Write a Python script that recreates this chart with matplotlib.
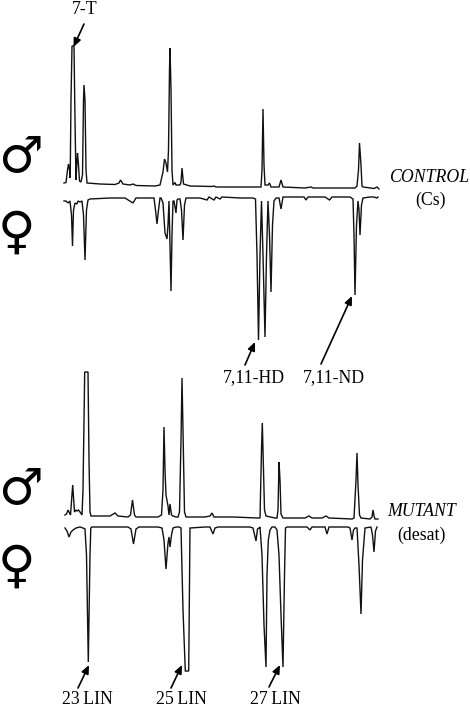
import matplotlib
matplotlib.use("Agg")
import matplotlib.pyplot as plt

# retention position / detector signal
control_male_rt = [64,66,67.5,68.5,69.5,70.2,
    71,72,74,75,76,
    77,77.5,78.5,79.5,81,82.5,
    83.5,84,85,86,87,
    100,115,119,120.5,123,130,133,136,155,160,
    163,164.5,166,167.5,168.5,169.5,170,171,172,173,
    175,176,180,181,182,183.5,190,212,214,216,235,
    261,262,263,264,265,268,269.5,271,279,281,283,
    305,311,313,355,357,358.5,359.5,361,362,363,374,377,379]
control_male_sig = [7,7.5,20,26,20,12,
    90,144,144,70,10,
    30,37,25,9,8,15,
    90,105,90,20,7,
    6,5.5,7,10,6,5,6,4.5,4,5,
    18,31,27,18,40,120,142,100,20,5,
    7.5,5,5,8,22,6,4,3.5,4,3,3,
    3,20,81,25,5,5,7,3,3,10,3,
    2,3,2,2,4,20,47,25,4,3,1.5,3,1]

control_female_rt = [64,66,68,70,71.5,72.5,73.5,75,77,78,80,82,
    83.5,85,86.5,88,90,110,125,133,136,150,154,
    155.5,157,158.5,160,161,163,
    165,167,168,169,170,171,172,173,
    174,175,176,177,178,180,181.5,183,184.5,186,
    200,207,209,214,216,220,222,240,253,
    255.5,257,258.5,260,261.5,263,265,266.5,268,269.5,271,272.5,274,
    276,279,281,283,290,300,304,306,308,325,329.5,332,345,350,353,
    354,355,356.5,358,359,360,361.5,363,370,374,377,378]
control_female_sig = [6,6,8,6,20,51,15,8,9,6,7,6,
    20,65,15,5,4,3,3,8,3,3,3,
    15,29,15,3,3,8,
    38,44,30,6,50,96,40,6,
    6,12,18,5,4,4,15,45,10,3,
    3,5,2,5,2,4,2,3,3,
    4,60,145,60,6,60,142,60,6,40,97,30,6,
    3,3,14,2,2,2,2,5,2,2,5,2,2,2,4,
    40,100,30,6,15,40,10,3,2,2,3,2]

mutant_male_rt = [65,66.5,68,69,70.5,72.7,74.5,76,77,78.5,80,82,
    83,84.7,88,89,90,91,110,115,118,
    128,130.5,132.5,134.5,136,158,
    161.5,163,164,165,166,168,169,170,171.5,173,
    176,178,179.5,181,182,183,184.5,186,205,210,212,214,228,231,233,
    258,260,261.5,262.3,263.5,264.5,266,275,277,278,279,280,281,283,
    305,309,312,322,326,329,352,354,356,357,358,359.5,361,
    370,372,373,374,375,378]
mutant_male_sig = [5,6,10,8,5,35,8,10,9,10,8,5,
    30,148,148,60,8,4,4,7,4,
    3,5,20,5,3,3,
    5,30,93,50,25,14,5,16,5,4,
    3,3,8,80,142,90,8,3,3,4,7,3,3,3,3,
    2,2,70,97,50,10,4,2,2,10,58,40,6,2,
    2,4,2,2,4,2,1,2,40,67,35,5,2,
    1,3,10,4,1,1]

mutant_female_rt = [65,67,69,71,73,76,80,83,85,
    86.5,88.3,90,90.8,92,110,128,131,133.5,136,139,158,
    162,164,166,168,169,170,171.5,173,176,179,
    181,183,185.3,188.7,190,205,210,213,215,218,250,
    253,256,257.5,259,260,262,264,266,267,268.3,270,272,
    275,277,279,281,283,284.5,285.5,287,300,307,310,312,320,325,327,329,
    340,348,350,352,353.5,355,357,359,361,362.5,365,
    371,372.5,374,375.5,377]
mutant_female_sig = [3,6,12,7,5,3,2,3,4,
    30,137,30,3,2,2,2,4,19,4,2,2,
    3,15,44,18,12,22,10,3,2,2,
    3,85,146,146,3,2,2,9,3,2,2,
    3,16,4,3,2,30,100,142,50,15,5,2,
    2,5,30,90,142,50,3,2,2,2,5,2,2,2,9,2,
    2,2,3,15,5,3,3,40,89,35,3,
    2,10,27,6,2]

tick_labels = ["7-T", "7,11-HD", "7,11-ND", "23\u2009LIN", "25\u2009LIN", "27\u2009LIN"]

plt.rcParams["font.family"] = ["Liberation Serif", "DejaVu Sans"]
fig = plt.figure(figsize=(4.7, 7.12), dpi=100, facecolor="white")
ax = fig.add_axes([0, 0, 1, 1])
ax.set_xlim(0, 470)
ax.set_ylim(712, 0)
ax.axis("off")

traces = [
    (control_male_rt, control_male_sig, 190, -1),
    (control_female_rt, control_female_sig, 195, 1),
    (mutant_male_rt, mutant_male_sig, 520, -1),
    (mutant_female_rt, mutant_female_sig, 525, 1),
]
for rt, sig, base, sign in traces:
    ax.plot(rt, [base + sign * s for s in sig], color="#111111", lw=1.0,
            solid_joinstyle="miter")

fs = 12.8
def arrow(label, xy, xytext, tx=None, ty=None):
    ax.annotate("", xy=xy, xytext=xytext,
                arrowprops=dict(arrowstyle="-|>,head_width=0.22,head_length=0.5",
                                color="black", lw=1.2, shrinkA=0, shrinkB=0))
    if label:
        ax.text(tx, ty, label, fontsize=fs, ha="center", va="center", color="black")

arrow(tick_labels[0], (73.5, 47), (84, 24), 85, 9)
arrow(tick_labels[1], (255, 342), (245, 365), 254, 378)
arrow(tick_labels[2], (352, 296), (321, 364), 334, 378)
arrow(tick_labels[3], (89, 665), (78, 688), 87, 700)
arrow(tick_labels[4], (182, 665), (171, 688), 181, 700)
arrow(tick_labels[5], (280, 665), (269, 687), 275, 700)

ax.text(429, 178, "CONTROL", fontsize=fs, style="italic", ha="center", va="center")
ax.text(430, 200, "(Cs)", fontsize=fs, ha="center", va="center")
ax.text(422, 512, "MUTANT", fontsize=fs, style="italic", ha="center", va="center")
ax.text(421, 535, "(desat)", fontsize=fs, ha="center", va="center")

for x, y, s, size in [(20, 158, "\u2642", 36), (16, 234, "\u2640", 37),
                      (20, 490, "\u2642", 36), (16, 568, "\u2640", 37)]:
    ax.text(x, y, s, fontsize=size, family="DejaVu Sans", fontweight="bold",
            ha="center", va="center", color="black")

fig.savefig("out.png", dpi=100)
